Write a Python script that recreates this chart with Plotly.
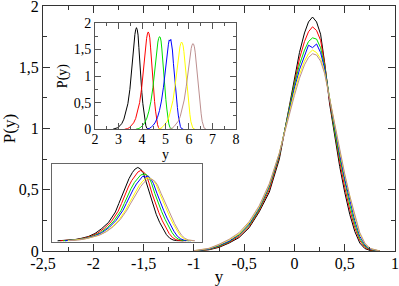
import plotly.graph_objects as go

# ---- data ----
x_grid = [-1.0, -0.85, -0.75, -0.65, -0.55, -0.45, -0.35, -0.25, -0.15, -0.1, -0.05, 0.0,
          0.05, 0.1, 0.14, 0.18, 0.22, 0.26, 0.3, 0.35, 0.4, 0.45, 0.5, 0.55, 0.6, 0.65,
          0.7, 0.75, 0.85]

p_black = [0.0, 0.01, 0.03, 0.065, 0.11, 0.19, 0.32, 0.48, 0.75, 0.97, 1.2, 1.43, 1.62, 1.78,
           1.87, 1.91, 1.87, 1.77, 1.54, 1.2, 0.93, 0.69, 0.48, 0.3, 0.16, 0.065, 0.02, 0.005, 0.0]
p_red = [0.0, 0.012, 0.035, 0.07, 0.12, 0.2, 0.33, 0.5, 0.77, 0.97, 1.19, 1.4, 1.57, 1.71,
         1.79, 1.83, 1.8, 1.72, 1.53, 1.22, 0.96, 0.73, 0.52, 0.34, 0.19, 0.085, 0.03, 0.008, 0.0]
p_green = [0.0, 0.014, 0.04, 0.075, 0.13, 0.21, 0.34, 0.52, 0.78, 0.97, 1.17, 1.36, 1.52, 1.64,
           1.71, 1.74, 1.73, 1.66, 1.51, 1.23, 0.98, 0.76, 0.56, 0.38, 0.22, 0.1, 0.04, 0.012, 0.0]
p_blue = [0.0, 0.016, 0.045, 0.08, 0.135, 0.22, 0.35, 0.53, 0.79, 0.97, 1.16, 1.33, 1.48, 1.6,
          1.68, 1.66, 1.69, 1.62, 1.49, 1.24, 1.0, 0.79, 0.59, 0.41, 0.25, 0.12, 0.05, 0.015, 0.0]
p_yellow = [0.002, 0.02, 0.05, 0.09, 0.14, 0.23, 0.36, 0.54, 0.8, 0.97, 1.14, 1.3, 1.44, 1.55,
            1.61, 1.64, 1.62, 1.57, 1.46, 1.24, 1.02, 0.82, 0.62, 0.44, 0.28, 0.14, 0.06, 0.02, 0.0]
p_brown = [0.003, 0.022, 0.055, 0.095, 0.15, 0.24, 0.37, 0.55, 0.8, 0.96, 1.12, 1.27, 1.41, 1.52,
           1.58, 1.61, 1.6, 1.55, 1.45, 1.24, 1.03, 0.83, 0.63, 0.45, 0.29, 0.15, 0.065, 0.022, 0.0]

series = [p_black, p_red, p_green, p_blue, p_yellow, p_brown]
colors = ["#000000", "#ff0000", "#00e000", "#0000ff", "#ffff00", "#bc8f8f"]

# top inset: same curves, each displaced along y
inset1_offset = [3.61, 4.11, 4.59, 5.04, 5.53, 6.01]
inset1_scale = 0.85
# bottom inset: same curves, each displaced slightly
inset2_shift = [0.0, 0.04, 0.08, 0.11, 0.15, 0.17]

main_xticks = [-2.5, -2.0, -1.5, -1.0, -0.5, 0.0, 0.5, 1.0]
main_xtext = ["-2,5", "-2", "-1,5", "-1", "-0,5", "0", "0,5", "1"]
main_yticks = [0, 0.5, 1, 1.5, 2]
main_ytext = ["0", "0,5", "1", "1,5", "2"]
in_xticks = [2, 3, 4, 5, 6, 7, 8]
in_xtext = ["2", "3", "4", "5", "6", "7", "8"]

fig = go.Figure()
for ys, c in zip(series, colors):
    fig.add_trace(go.Scatter(x=x_grid, y=ys, mode="lines", line=dict(color=c, width=1),
                             xaxis="x", yaxis="y", showlegend=False))
for ys, c, off in zip(series, colors, inset1_offset):
    fig.add_trace(go.Scatter(x=[off + inset1_scale * v for v in x_grid], y=ys, mode="lines",
                             line=dict(color=c, width=1), xaxis="x2", yaxis="y2", showlegend=False))
for ys, c, sh in zip(series, colors, inset2_shift):
    fig.add_trace(go.Scatter(x=[v + sh for v in x_grid], y=ys, mode="lines",
                             line=dict(color=c, width=1), xaxis="x3", yaxis="y3", showlegend=False))

font = "Liberation Serif, Times New Roman, DejaVu Serif, serif"
axc = "#333333"
fig.update_layout(
    width=399, height=286,
    margin=dict(l=43, r=4, t=6, b=35, autoexpand=False),
    paper_bgcolor="white", plot_bgcolor="white",
    font=dict(family=font, size=16, color="black"),
    xaxis=dict(domain=[0, 1], range=[-2.5, 1], tickmode="array", tickvals=main_xticks,
               ticktext=main_xtext, ticks="inside", ticklen=7, tickcolor=axc, automargin=False,
               minor=dict(dtick=0.25, tick0=0, ticks="inside", ticklen=4, tickcolor=axc),
               showline=True, linecolor=axc, linewidth=1.2, mirror="ticks", showgrid=False,
               zeroline=False, ticklabelstandoff=-2, ticklabeloverflow="allow",
               title=dict(text="y", standoff=0, font=dict(size=17))),
    yaxis=dict(domain=[0, 1], range=[0, 2], tickmode="array", tickvals=main_yticks,
               ticktext=main_ytext, ticks="inside", ticklen=7, tickcolor=axc, automargin=False,
               minor=dict(dtick=0.25, tick0=0, ticks="inside", ticklen=4, tickcolor=axc),
               showline=True, linecolor=axc, linewidth=1.2, mirror="ticks", showgrid=False,
               zeroline=False, ticklabeloverflow="allow",
               title=dict(text="P(y)", standoff=4, font=dict(size=17))),
    xaxis2=dict(domain=[0.148, 0.548], anchor="y2", range=[2, 8], tickmode="array",
                tickvals=in_xticks, ticktext=in_xtext, ticks="inside", ticklen=6, tickcolor="#555",
                minor=dict(dtick=0.5, tick0=0, ticks="inside", ticklen=3, tickcolor="#555"),
                showline=True, linecolor="#555", linewidth=1, mirror="ticks", showgrid=False,
                zeroline=False, tickfont=dict(size=14), automargin=False,
                ticklabelstandoff=-3, ticklabeloverflow="allow",
                title=dict(text="y", standoff=0, font=dict(size=14))),
    yaxis2=dict(domain=[0.497, 0.931], anchor="x2", range=[0, 2], tickmode="array",
                tickvals=main_yticks, ticktext=main_ytext, ticks="inside", ticklen=6, tickcolor="#555",
                minor=dict(dtick=0.25, tick0=0, ticks="inside", ticklen=3, tickcolor="#555"),
                showline=True, linecolor="#555", linewidth=1, mirror="ticks", showgrid=False,
                zeroline=False, tickfont=dict(size=14), automargin=False,
                ticklabeloverflow="allow",
                title=dict(text="P(y)", standoff=2, font=dict(size=14))),
    xaxis3=dict(domain=[0.026, 0.453], anchor="y3", range=[-1.08, 1.13], showticklabels=False,
                ticks="", showline=True, linecolor="#666", linewidth=1, mirror=True,
                showgrid=False, zeroline=False, automargin=False),
    yaxis3=dict(domain=[0.037, 0.355], anchor="x3", range=[-0.03, 2.0], showticklabels=False,
                ticks="", showline=True, linecolor="#666", linewidth=1, mirror=True,
                showgrid=False, zeroline=False, automargin=False),
)

fig.write_html("out.html", config={"displayModeBar": False},
               post_script="document.body.style.margin='0px';")
